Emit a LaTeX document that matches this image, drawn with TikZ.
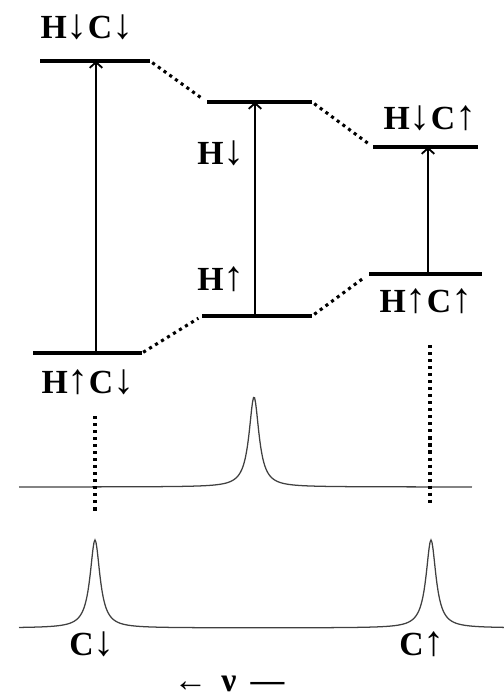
\documentclass[tikz,border=0pt]{standalone}
\usepackage{fontspec}
\setmainfont{Liberation Serif}
\newcommand{\spinup}{{\fontsize{30}{28}\selectfont ↑}}
\newcommand{\spindn}{{\fontsize{30}{28}\selectfont ↓}}
\usetikzlibrary{arrows.meta}
\begin{document}
\begin{tikzpicture}[x=0.025cm,y=-0.025cm,
  level/.style={line width=2.6pt},
  trans/.style={line width=1.3pt,-{Straight Barb[length=4pt,width=9pt]}},
  dots/.style={line width=2.2pt,dash pattern=on 2.2pt off 2.8pt},
  spec/.style={line width=0.9pt,black!75},
  lab/.style={font=\fontsize{24}{28}\selectfont\bfseries,inner sep=0pt}]
  \useasboundingbox (0,0) rectangle (504,697);
  % energy levels
  \coordinate (ddL) at (40,61);   \coordinate (ddR) at (150,61);
  \coordinate (hdL) at (207,102); \coordinate (hdR) at (312,102);
  \coordinate (duL) at (373,147); \coordinate (duR) at (478,147);
  \coordinate (uuL) at (369,274); \coordinate (uuR) at (482,274);
  \coordinate (huL) at (202,316); \coordinate (huR) at (312,316);
  \coordinate (udL) at (33,353);  \coordinate (udR) at (142,353);
  \foreach \a in {dd,hd,du,uu,hu,ud}
    \draw[level] (\a L) -- (\a R);
  \draw[dots,shorten <=2pt,shorten >=5pt] (ddR) -- (hdL);
  \draw[dots,shorten <=2pt,shorten >=4pt] (hdR) -- (duL);
  \draw[dots,shorten <=2pt,shorten >=4pt] (huR) -- (uuL);
  \draw[dots,shorten <=1pt,shorten >=3pt] (udR) -- (huL);
  % transitions
  \coordinate (t1) at (96,353);
  \coordinate (t2) at (255,316);
  \coordinate (t3) at (428,274);
  \draw[trans] (t1) -- (t1 |- ddL);
  \draw[trans] (t2) -- (t2 |- hdL);
  \draw[trans] (t3) -- (t3 |- duL);
  % labels
  \node[lab] (ldd) at (87,27) {H\spindn C\spindn};
  \node[lab] (lhd) at (221,153) {H\spindn};
  \node[lab] (ldu) at (430,118) {H\spindn C\spinup};
  \node[lab] (lhu) at (221,279) {H\spinup};
  \node[lab] (luu) at (426,301) {H\spinup C\spinup};
  \node[lab] (lud) at (88,382) {H\spinup C\spindn};
  % spectra
  \draw[spec] plot[domain=19:472,samples=451] (\x,{487-90/(1+((\x-254)/6)^2)});
  \draw[spec] plot[domain=19:504,samples=486]
    (\x,{628-88/(1+((\x-95)/6)^2)-88/(1+((\x-431)/6)^2)});
  \coordinate (v1a) at (95,416);  \coordinate (v1b) at (95,513);
  \coordinate (v2a) at (430,345); \coordinate (v2b) at (430,505);
  \draw[dots] (v1a) -- (v1b);
  \draw[dots] (v2a) -- (v2b);
  \node[lab] (lcd) at (92,644) {C\spindn};
  \node[lab] (lcu) at (422,644) {C\spinup};
  \node[lab] (lnu) at (229,684) {← \,ν\, —};
\end{tikzpicture}
\end{document}
